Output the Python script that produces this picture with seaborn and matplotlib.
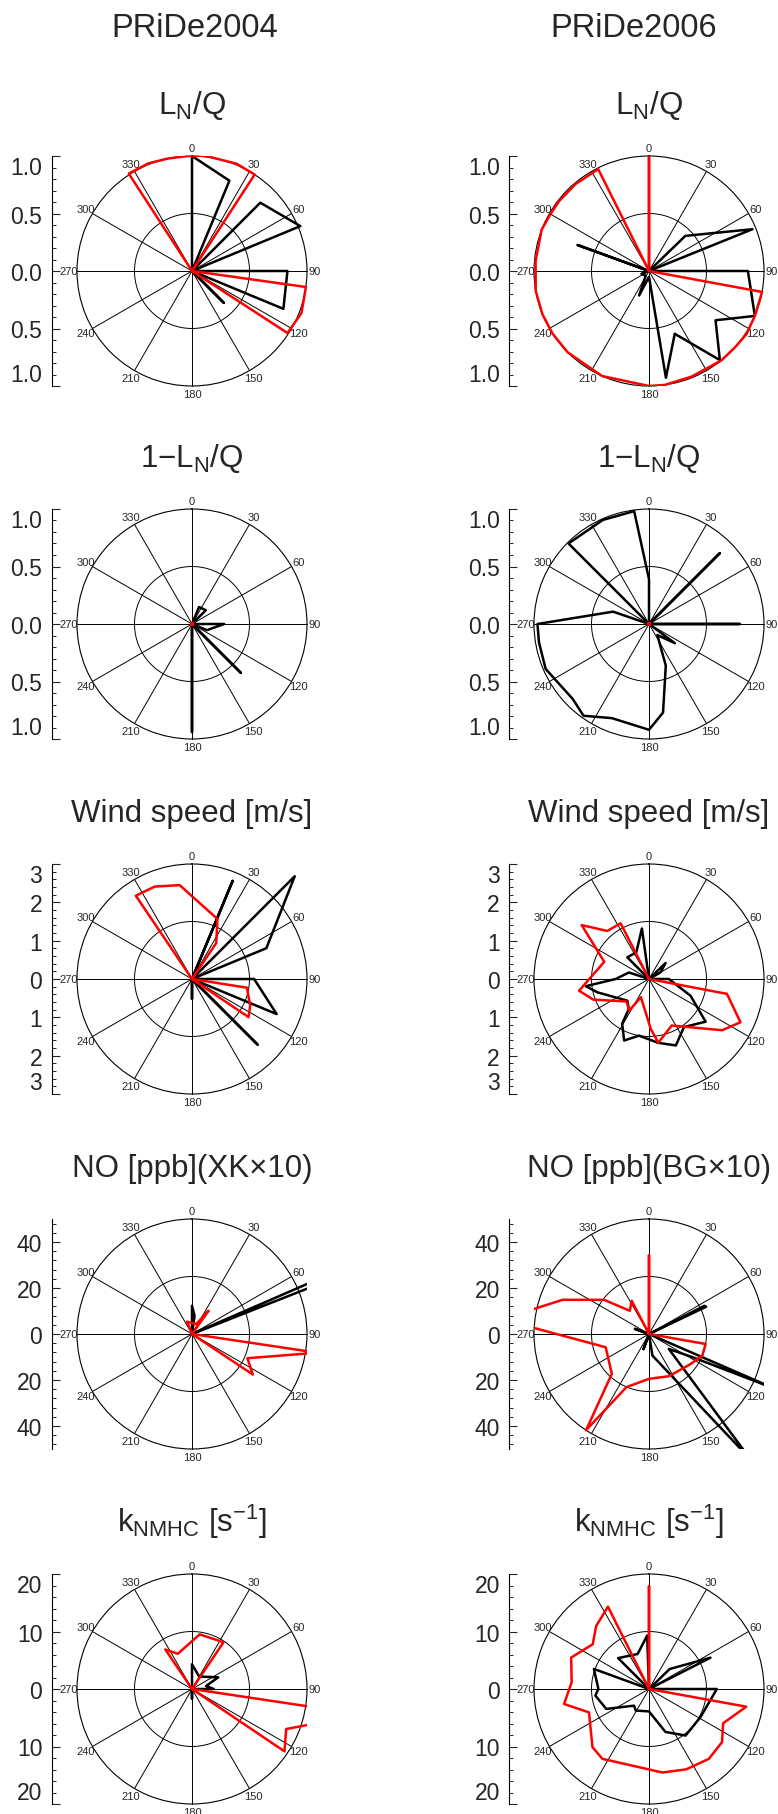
import numpy as np
import pandas as pd
import matplotlib
matplotlib.use("Agg")
import matplotlib.pyplot as plt
import seaborn as sns
from matplotlib.ticker import FixedLocator, MultipleLocator, FuncFormatter

sns.set_style("white")
plt.rcParams["font.family"] = ["Liberation Sans", "DejaVu Sans"]
plt.rcParams["mathtext.fontset"] = "custom"
plt.rcParams["mathtext.rm"] = "Liberation Sans"
plt.rcParams["mathtext.it"] = "Liberation Sans"

# ---------------- data (direction in degrees, value) ----------------
col_titles = ["PRiDe2004", "PRiDe2006"]
row_titles = [
    [r"$\mathregular{L_N/Q}$", r"$\mathregular{L_N/Q}$"],
    [r"$\mathregular{1{-}L_N/Q}$", r"$\mathregular{1{-}L_N/Q}$"],
    ["Wind speed [m/s]", "Wind speed [m/s]"],
    ["NO [ppb](XK\u00d710)", "NO [ppb](BG\u00d710)"],
    [r"$\mathregular{k_{NMHC}\ [s^{-1}]}$", r"$\mathregular{k_{NMHC}\ [s^{-1}]}$"],
]
angle_labels = [0, 30, 60, 90, 120, 150, 180, 210, 240, 270, 300, 330]

# L_N/Q 2004
lnq04_black_dir = [0, 0, 22.5, 0, 45, 67.5, 0, 90, 112.5, 0, 135, 0]
lnq04_black_val = [0, 1.0, 0.85, 0, 0.84, 1.02, 0, 0.83, 0.86, 0, 0.39, 0]
lnq04_red_dir = [0, 327, 338, 348, 357.5, 6, 22.5, 33, 0, 98, 111, 123, 0]
lnq04_red_val = [0, 1.01, 1.01, 1.0, 1.0, 1.01, 1.01, 1.0, 0, 1.0, 1.02, 0.99, 0]
# L_N/Q 2006
lnq06_black_dir = [0, 46, 68, 0, 90, 113, 126.5, 141.5, 157.7, 171, 180, 202, 215, 250, 0, 290, 0]
lnq06_black_val = [0, 0.44, 0.97, 0, 0.86, 1.0, 0.72, 0.99, 0.59, 0.94, 0.05, 0.23, 0.05, 0.07, 0, 0.66, 0]
lnq06_red_dir = [0, 0, 0, 333.5, 320, 308, 300, 291, 275, 260, 248, 237, 225, 204, 180, 172, 158,
                 141, 131.5, 123, 113, 100.5, 0]
lnq06_red_val = [0, 1.0, 0, 0.99, 0.99, 0.99, 0.99, 1.0, 0.99, 1.0, 1.0, 1.0, 1.0, 1.0, 1.0, 1.0,
                 0.99, 1.0, 1.0, 1.01, 1.0, 1.0, 0]
# 1-L_N/Q 2004
inv04_black_dir = [0, 22.5, 45, 0, 90, 112.5, 0, 135, 0, 180, 0]
inv04_black_val = [0, 0.16, 0.17, 0, 0.28, 0.14, 0, 0.6, 0, 0.94, 0]
inv04_red_dir = [0]
inv04_red_val = [0]
# 1-L_N/Q 2006
inv06_black_dir = [0, 0, 352.5, 336, 315, 0, 289, 270, 260.5, 246.5, 225.5, 215.5, 201.5, 180,
                   171, 158, 143, 126.6, 0, 45, 0, 90, 0]
inv06_black_val = [0, 0.39, 0.99, 0.99, 0.99, 0, 0.33, 0.97, 0.97, 0.98, 0.93, 0.98, 0.88, 0.92,
                   0.78, 0.39, 0.12, 0.28, 0, 0.87, 0, 0.79, 0]
inv06_red_dir = [0]
inv06_red_val = [0]
# Wind speed 2004
wind04_black_dir = [0, 22.5, 0, 45, 67.5, 0, 90, 112.5, 0, 135, 0, 180, 0]
wind04_black_val = [0, 2.77, 0, 3.79, 2.1, 0, 1.62, 2.39, 0, 2.42, 0, 0.52, 0]
wind04_red_dir = [0, 326, 338, 352.5, 23, 34, 0, 99, 114.6, 124, 0]
wind04_red_val = [0, 2.62, 2.6, 2.47, 1.7, 1.13, 0, 1.45, 1.67, 1.78, 0]
# Wind speed 2006
wind06_black_dir = [0, 46, 60, 0, 90, 112, 127, 144, 158, 172, 190, 202, 211, 214, 225, 255.5,
                    263.5, 270, 288, 0, 315, 334.5, 352, 0]
wind06_black_val = [0, 0.6, 0.35, 0, 0.52, 1.17, 1.85, 1.55, 1.87, 1.68, 1.5, 1.73, 1.36, 0.94,
                    0.8, 1.39, 1.66, 0.87, 0.55, 0, 0.8, 0.77, 1.33, 0]
wind06_red_dir = [0, 333, 319, 308.7, 291, 260.5, 249.7, 225, 212, 204, 178, 171.7, 154, 125,
                  115.3, 100.8, 0]
wind06_red_val = [0, 1.63, 1.66, 2.25, 1.25, 1.85, 1.55, 0.83, 0.97, 0.52, 1.3, 1.68, 1.35, 2.33,
                  2.64, 2.07, 0]
# NO 2004
no04_black_dir = [0, 0, 8, 0, 66.5, 68.5, 0]
no04_black_val = [0, 12.3, 8, 0, 60, 62, 0]
no04_red_dir = [0, 338, 23, 35.5, 0, 98.5, 113.6, 123.7, 0]
no04_red_val = [0, 5.8, 4.7, 12.4, 0, 55, 26.3, 31.8, 0]
# NO 2006
no06_black_dir = [0, 63, 64.5, 0, 113.5, 118, 127, 141, 171, 0, 290, 0, 200, 0]
no06_black_val = [0, 27, 27.5, 0, 60, 21.6, 10.8, 70, 9.5, 0, 6.5, 0, 7, 0]
no06_red_dir = [0, 0, 0, 332.5, 320.4, 307.3, 291.6, 280, 273, 253, 223, 213.2, 203, 180, 154.7,
                125.8, 112, 100, 0]
no06_red_val = [0, 34.2, 0, 16.3, 13.1, 24.5, 40.4, 55, 50, 19.7, 23.7, 50, 25.1, 19.5, 20.3,
                22.3, 25, 25, 0]
# k_NMHC 2004
k04_black_dir = [0, 0, 30, 66, 78, 90, 0, 180, 0]
k04_black_val = [0, 4.3, 2.5, 5.0, 2.5, 3.8, 0, 1.7, 0]
k04_red_dir = [0, 326, 338, 8, 34, 0, 98.5, 106, 113, 124, 0]
k04_red_val = [0, 8.3, 6.6, 9.6, 9.8, 0, 22, 22, 17.8, 19.4, 0]
# k_NMHC 2006
k06_black_dir = [0, 358, 342, 315, 0, 290, 270, 263, 245, 222, 211.6, 180, 159, 141.8, 118.7, 90,
                 0, 46, 63, 0]
k06_black_val = [0, 9.3, 6.4, 7.6, 0, 10.2, 8.8, 9.4, 8.2, 3.9, 4.4, 3.9, 8.0, 10.3, 10.2, 11.8,
                 0, 5.0, 12.0, 0]
k06_red_dir = [0, 0, 0, 333.5, 320, 308.5, 292, 275, 260, 248.7, 224.2, 213.7, 171, 155.2, 139.4,
               126, 114.8, 100.3, 0]
k06_red_val = [0, 17.9, 0, 16.0, 14.3, 12.5, 14.6, 13.5, 15.0, 11.2, 14.1, 14.6, 14.7, 15.4, 16.0,
               15.7, 14.2, 17.2, 0]

series = [
    [(lnq04_black_dir, lnq04_black_val, lnq04_red_dir, lnq04_red_val),
     (lnq06_black_dir, lnq06_black_val, lnq06_red_dir, lnq06_red_val)],
    [(inv04_black_dir, inv04_black_val, inv04_red_dir, inv04_red_val),
     (inv06_black_dir, inv06_black_val, inv06_red_dir, inv06_red_val)],
    [(wind04_black_dir, wind04_black_val, wind04_red_dir, wind04_red_val),
     (wind06_black_dir, wind06_black_val, wind06_red_dir, wind06_red_val)],
    [(no04_black_dir, no04_black_val, no04_red_dir, no04_red_val),
     (no06_black_dir, no06_black_val, no06_red_dir, no06_red_val)],
    [(k04_black_dir, k04_black_val, k04_red_dir, k04_red_val),
     (k06_black_dir, k06_black_val, k06_red_dir, k06_red_val)],
]

row_rmax = [1.0, 1.0, 3.0, 50.0, 20.0]
row_major = [[-1, -0.5, 0, 0.5, 1], [-1, -0.5, 0, 0.5, 1], [-3, -2, -1, 0, 1, 2, 3],
             [-40, -20, 0, 20, 40], [-20, -10, 0, 10, 20]]
row_minor = [0.1, 0.1, 0.2, 4, 2]
row_fmt = ["%.1f", "%.1f", "%d", "%d", "%d"]

# ---------------- layout (pixels) ----------------
W, H = 778, 1815
R = 115
col_cx = [192, 649]
col_axis_x = [52, 509.5]
col_title_x = [195, 634]
row_cy = [272, 625, 980, 1335, 1690]

fig = plt.figure(figsize=(W / 100, H / 100), dpi=100)

for c, t in enumerate(col_titles):
    fig.text(col_title_x[c] / W, 1 - 37 / H, t, ha="center", va="baseline", fontsize=23.5)


def draw_series(ax, dirs, vals, color):
    df = pd.DataFrame({"theta": np.deg2rad(np.asarray(dirs, float)),
                       "r": np.asarray(vals, float)})
    if np.allclose(df["r"], 0):
        sns.scatterplot(data=df, x="theta", y="r", ax=ax, color=color, marker="s",
                        s=10, linewidth=0, zorder=5)
        return
    sns.lineplot(data=df, x="theta", y="r", ax=ax, sort=False, estimator=None,
                 color=color, linewidth=1.8, zorder=4)
    line = ax.lines[-1]
    line.set_clip_path(None)
    line.set_clip_box(ax.bbox)


for r_i in range(5):
    rmax = row_rmax[r_i]
    for c in range(2):
        cx, cy = col_cx[c], row_cy[r_i]
        ax = fig.add_axes([(cx - R) / W, 1 - (cy + R) / H, 2 * R / W, 2 * R / H],
                          projection="polar")
        ax.set_theta_zero_location("N")
        ax.set_theta_direction(-1)
        ax.set_rlim(0, rmax)
        ax.grid(False)
        ax.set_xticks([])
        ax.set_yticks([])
        ax.patch.set_alpha(0)
        ax.spines["polar"].set_linewidth(0.8)
        ax.spines["polar"].set_color("black")
        th = np.linspace(0, 2 * np.pi, 361)
        ax.plot(th, np.full_like(th, rmax / 2), color="black", lw=0.7, clip_on=False)
        for a in angle_labels:
            ax.plot([np.deg2rad(a)] * 2, [0, rmax], color="black", lw=0.7, clip_on=False)
            ax.text(np.deg2rad(a), 1.07 * rmax, str(a), ha="center", va="center",
                    fontsize=8, clip_on=False)
        bd, bv, rd, rv = series[r_i][c]
        draw_series(ax, bd, bv, "black")
        draw_series(ax, rd, rv, "#ff0000")
        ax.set_xlabel("")
        ax.set_ylabel("")

        # left scale bar
        lax = fig.add_axes([col_axis_x[c] / W, 1 - (cy + R) / H, 0.002, 2 * R / H])
        lax.set_ylim(-rmax, rmax)
        lax.patch.set_alpha(0)
        for s in ["top", "right", "bottom"]:
            lax.spines[s].set_visible(False)
        lax.spines["left"].set_linewidth(0.8)
        lax.spines["left"].set_color("black")
        lax.set_xticks([])
        lax.yaxis.set_major_locator(FixedLocator(row_major[r_i]))
        lax.yaxis.set_minor_locator(MultipleLocator(row_minor[r_i]))
        fmt = row_fmt[r_i]
        lax.yaxis.set_major_formatter(FuncFormatter(lambda v, p, f=fmt: f % abs(v)))
        lax.tick_params(axis="y", which="major", direction="in", length=6, width=0.8,
                        labelsize=16.5, pad=7, left=True)
        lax.tick_params(axis="y", which="minor", direction="in", length=3, width=0.7, left=True)
        # end labels sit inside the bar's ends
        if abs(row_major[r_i][-1] - rmax) < 1e-9:
            labels = lax.yaxis.get_majorticklabels()
            labels[0].set_verticalalignment("bottom")
            labels[-1].set_verticalalignment("top")

        fig.text(cx / W, 1 - (cy - 158) / H, row_titles[r_i][c], ha="center",
                 va="baseline", fontsize=22.5)

fig.savefig("out.png", dpi=100)
